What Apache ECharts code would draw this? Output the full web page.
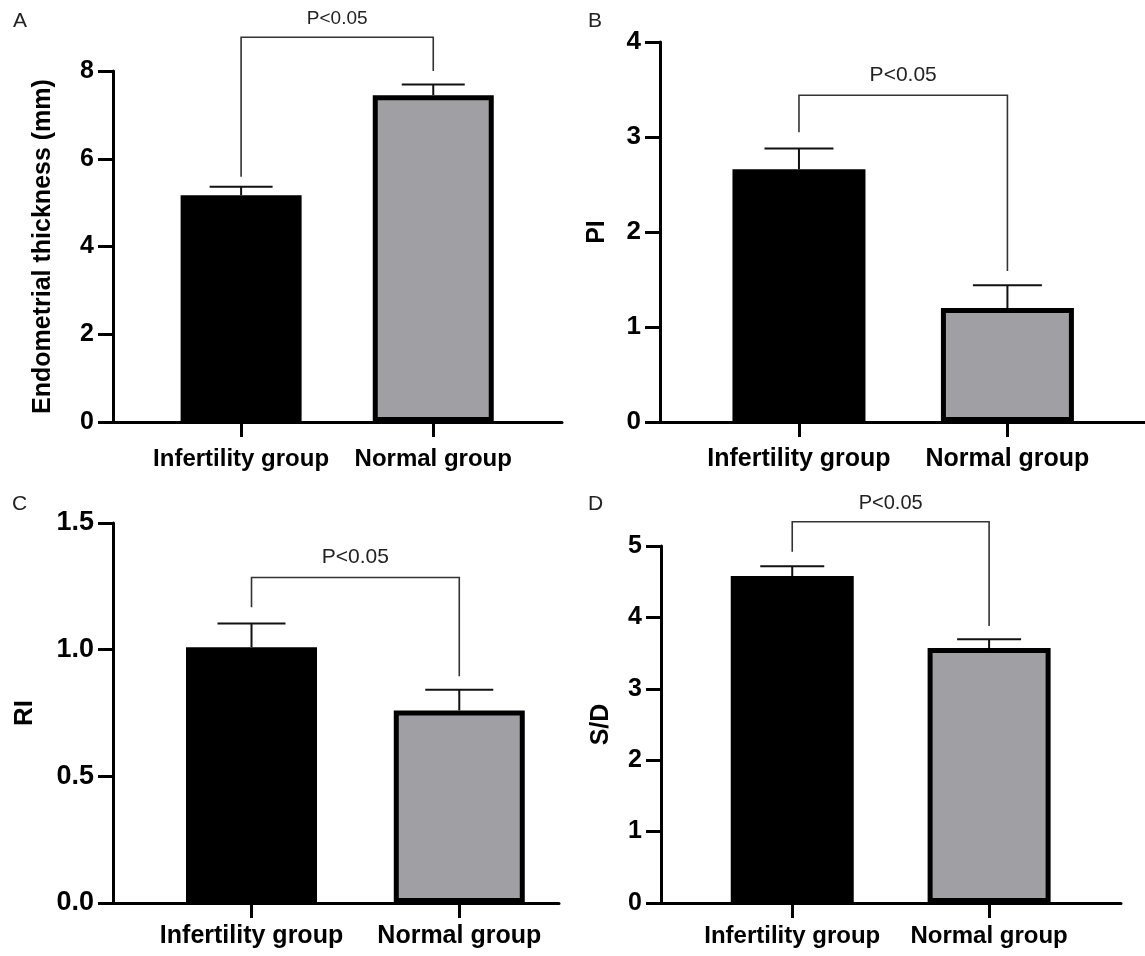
<!DOCTYPE html>
<html>
<head>
<meta charset="utf-8">
<script src="https://cdn.jsdelivr.net/npm/echarts@6/dist/echarts.min.js"></script>
<style>
  html, body { margin: 0; padding: 0; background: #fff; }
  #chart { width: 1145px; height: 956px; }
</style>
</head>
<body>
<div id="chart"></div>
<script>
const groups = ["Infertility group", "Normal group"];
const pText = "P<0.05";

// A - endometrial thickness
const thicknessMean = [5.17, 7.45];
const thicknessSd = [0.19, 0.24];
const thicknessBracket = [5.59, 8.0, 8.77]; // left foot, right foot, top
const thicknessTicks = [0, 2, 4, 6, 8];

// B - PI
const piMean = [2.66, 1.2];
const piSd = [0.22, 0.24];
const piBracket = [3.05, 1.59, 3.44];
const piTicks = [0, 1, 2, 3, 4];

// C - RI
const riMean = [1.01, 0.76];
const riSd = [0.093, 0.082];
const riBracket = [1.167, 0.895, 1.285];
const riTicks = [0, 0.5, 1.0, 1.5];

// D - S/D
const sdMean = [4.58, 3.57];
const sdSd = [0.135, 0.125];
const sdBracket = [4.92, 3.88, 5.34];
const sdTicks = [0, 1, 2, 3, 4, 5];

const barColors = ["#000000", "#a0a0a4"];
const font = 'Arial, "Liberation Sans", Helvetica, sans-serif';

const panels = [
  {
    letter: "A", letterPos: [13, 11], name: "Endometrial thickness (mm)",
    mean: thicknessMean, sd: thicknessSd, bracket: thicknessBracket, ticks: thicknessTicks,
    grid: { left: 113, top: 71, width: 449, height: 351 }, xMax: 2.67, barWidth: 121,
    tickFont: 25, catFont: 24, nameFont: 25, nameGap: 57, catMargin: 25, pFont: 19, pGap: 18, decimals: 0,
  },
  {
    letter: "B", letterPos: [588, 11], name: "PI",
    mean: piMean, sd: piSd, bracket: piBracket, ticks: piTicks,
    grid: { left: 660, top: 42, width: 485, height: 380 }, xMax: 2.66, barWidth: 133,
    tickFont: 26, catFont: 25, nameFont: 25, nameGap: 50, catMargin: 25, pFont: 21, pGap: 20, decimals: 0,
  },
  {
    letter: "C", letterPos: [12, 494], name: "RI",
    mean: riMean, sd: riSd, bracket: riBracket, ticks: riTicks,
    grid: { left: 113, top: 523, width: 446, height: 380 }, xMax: 2.48, barWidth: 131,
    tickFont: 27, catFont: 25, nameFont: 26, nameGap: 75, catMargin: 21, pFont: 21, pGap: 20, decimals: 1,
  },
  {
    letter: "D", letterPos: [588, 494], name: "S/D",
    mean: sdMean, sd: sdSd, bracket: sdBracket, ticks: sdTicks,
    grid: { left: 661, top: 546, width: 460, height: 357 }, xMax: 2.67, barWidth: 123,
    tickFont: 25, catFont: 24, nameFont: 25, nameGap: 47, catMargin: 21, pFont: 20, pGap: 18, decimals: 0,
  },
];

const myChart = echarts.init(document.getElementById("chart"));

const option = {
  animation: false,
  backgroundColor: "#fff",
  title: panels.map((p) => ({
    text: p.letter,
    left: p.letterPos[0],
    top: p.letterPos[1],
    padding: 0,
    textStyle: { fontSize: 21, fontWeight: "normal", color: "#222", fontFamily: font },
  })),
  grid: panels.map((p) => p.grid),
  xAxis: panels.map((p, i) => ({
    gridIndex: i,
    type: "value",
    min: 1 / 3,
    max: p.xMax,
    splitLine: { show: false },
    axisLine: { show: true, lineStyle: { color: "#000", width: 3 } },
    axisTick: { show: true, customValues: [1, 2], length: 15, lineStyle: { color: "#000", width: 3 } },
    axisLabel: {
      customValues: [1, 2],
      formatter: (v) => groups[Math.round(v) - 1] || "",
      margin: p.catMargin,
      fontSize: p.catFont,
      fontWeight: "bold",
      color: "#000",
      fontFamily: font,
    },
  })),
  yAxis: panels.map((p, i) => ({
    gridIndex: i,
    type: "value",
    min: p.ticks[0],
    max: p.ticks[p.ticks.length - 1],
    interval: p.ticks[1] - p.ticks[0],
    splitLine: { show: false },
    axisLine: { show: true, lineStyle: { color: "#000", width: 3 } },
    axisTick: { show: true, length: 15, lineStyle: { color: "#000", width: 3 } },
    axisLabel: {
      margin: 19,
      fontSize: p.tickFont,
      fontWeight: "bold",
      color: "#000",
      fontFamily: font,
      formatter: (v) => v.toFixed(p.decimals),
    },
    name: p.name,
    nameLocation: "middle",
    nameGap: p.nameGap,
    nameTextStyle: { fontSize: p.nameFont, fontWeight: "bold", color: "#000", fontFamily: font },
  })),
  series: [],
};

panels.forEach((p, i) => {
  // bars
  option.series.push({
    type: "bar",
    xAxisIndex: i,
    yAxisIndex: i,
    barWidth: p.barWidth,
    z: 2,
    itemStyle: { borderColor: "#000", borderWidth: 5 },
    data: groups.map((g, j) => ({ value: [j + 1, p.mean[j]], itemStyle: { color: barColors[j] } })),
  });
  // error bars (upper only)
  option.series.push({
    type: "custom",
    xAxisIndex: i,
    yAxisIndex: i,
    z: 3,
    encode: { x: 0, y: 1 },
    data: groups.map((g, j) => [j + 1, p.mean[j], p.sd[j]]),
    renderItem: (params, api) => {
      const x = api.value(0);
      const m = api.value(1);
      const s = api.value(2);
      const base = api.coord([x, m]);
      const top = api.coord([x, m + s]);
      const half = (p.barWidth + 5) / 4;
      const style = { stroke: "#111", lineWidth: 2 };
      return {
        type: "group",
        children: [
          { type: "line", shape: { x1: base[0], y1: base[1], x2: top[0], y2: top[1] }, style },
          { type: "line", shape: { x1: top[0] - half, y1: top[1], x2: top[0] + half, y2: top[1] }, style },
        ],
      };
    },
  });
  // significance bracket
  option.series.push({
    type: "custom",
    xAxisIndex: i,
    yAxisIndex: i,
    z: 4,
    clip: false,
    encode: { x: [0, 1], y: [2, 3, 4] },
    data: [[1, 2, p.bracket[0], p.bracket[1], p.bracket[2]]],
    renderItem: (params, api) => {
      const x1 = api.value(0);
      const x2 = api.value(1);
      const a = api.coord([x1, api.value(2)]);
      const at = api.coord([x1, api.value(4)]);
      const bt = api.coord([x2, api.value(4)]);
      const b = api.coord([x2, api.value(3)]);
      return {
        type: "group",
        children: [
          {
            type: "polyline",
            shape: { points: [a, at, bt, b] },
            style: { stroke: "#333", lineWidth: 1.6, fill: null },
          },
          {
            type: "text",
            style: {
              text: pText,
              x: (at[0] + bt[0]) / 2,
              y: at[1] - p.pGap,
              align: "center",
              verticalAlign: "middle",
              fontSize: p.pFont,
              fontFamily: font,
              fill: "#222",
            },
          },
        ],
      };
    },
  });
});

myChart.setOption(option);
</script>
</body>
</html>
